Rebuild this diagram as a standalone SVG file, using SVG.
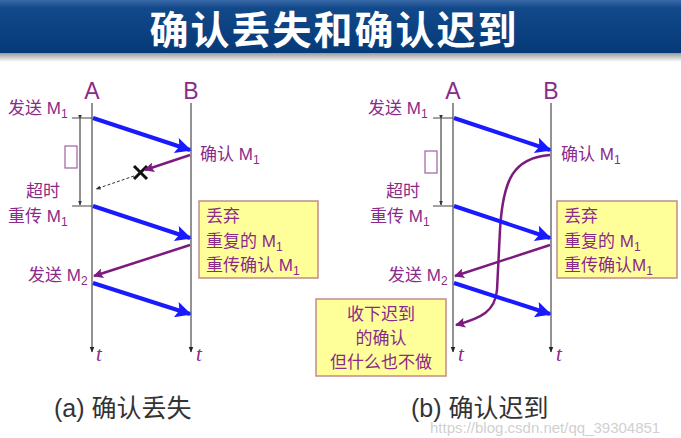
<svg xmlns="http://www.w3.org/2000/svg" width="681" height="438" viewBox="0 0 681 438">
<defs>
<linearGradient id="band" x1="0" y1="0" x2="0" y2="1">
<stop offset="0" stop-color="#3a6aa8"/>
<stop offset="0.15" stop-color="#12498a"/>
<stop offset="1" stop-color="#053a78"/>
</linearGradient>
<linearGradient id="shadow" x1="0" y1="0" x2="0" y2="1">
<stop offset="0" stop-color="#9a9a9a"/>
<stop offset="1" stop-color="#ffffff"/>
</linearGradient>
<marker id="blue" viewBox="0 0 10 10" refX="9" refY="5" markerWidth="5" markerHeight="4" orient="auto" markerUnits="strokeWidth">
<path d="M0,0 L10,5 L0,10 L2,5 z" fill="#1a1aff"/>
</marker>
<marker id="purp" viewBox="0 0 10 10" refX="9" refY="5" markerWidth="5" markerHeight="4" orient="auto" markerUnits="strokeWidth">
<path d="M0,0 L10,5 L0,10 L2,5 z" fill="#7d1a7d"/>
</marker>
<marker id="blk" viewBox="0 0 10 10" refX="9" refY="5" markerWidth="6" markerHeight="6" orient="auto" markerUnits="userSpaceOnUse">
<path d="M0,1 L10,5 L0,9 z" fill="#222"/>
</marker>
<marker id="blk2" viewBox="0 0 10 10" refX="9" refY="5" markerWidth="5" markerHeight="5" orient="auto" markerUnits="userSpaceOnUse">
<path d="M0,1 L10,5 L0,9 z" fill="#333"/>
</marker>
</defs>
<style>
.t{font-family:"Liberation Sans","Noto Sans CJK SC",sans-serif;fill:#8b2a8b;font-size:17px}
.h{font-family:"Liberation Sans",sans-serif;fill:#8b2a8b;font-size:23px}
.ti{font-family:"Liberation Serif",serif;font-style:italic;fill:#8b2a8b;font-size:21px}
.cap{font-family:"Liberation Sans","Noto Sans CJK SC",sans-serif;fill:#333;font-size:25px}
.life{stroke:#6e6e6e;stroke-width:1.5;fill:none}
.bl{stroke:#1a1aff;stroke-width:4;fill:none;marker-end:url(#blue)}
.pl{stroke:#7d1a7d;stroke-width:2.5;fill:none;marker-end:url(#purp)}
.tick{stroke:#444;stroke-width:1}
.tm{stroke:#222;stroke-width:1;marker-start:url(#blk2);marker-end:url(#blk2)}
.box{fill:#ffff99;stroke:#c48a8a;stroke-width:1.5}
.tbox{fill:none;stroke:#a060a0;stroke-width:1.2}
</style>
<rect width="681" height="438" fill="#ffffff"/>
<g id="title">
<rect x="0" y="0" width="681" height="53" fill="url(#band)"/>
<rect x="0" y="53" width="681" height="9" fill="url(#shadow)"/>
<text x="334" y="44" text-anchor="middle" font-family="'Noto Sans CJK SC',sans-serif" font-weight="bold" font-size="39" fill="#ffffff" letter-spacing="2">确认丢失和确认迟到</text>
</g>
<g id="panel-a">
<g id="a-A"><text class="h" x="92" y="99" text-anchor="middle">A</text><line class="life" x1="92" y1="103" x2="92" y2="352" marker-end="url(#blk)"/><text class="ti" x="96" y="361">t</text></g>
<g id="a-B"><text class="h" x="191" y="99" text-anchor="middle">B</text><line class="life" x1="191" y1="103" x2="191" y2="352" marker-end="url(#blk)"/><text class="ti" x="196" y="361">t</text></g>
<g id="a-labels">
<text class="t" x="8" y="114">发送 M<tspan font-size="12" dy="4">1</tspan></text>
<text class="t" x="26" y="197">超时</text>
<text class="t" x="8" y="222">重传 M<tspan font-size="12" dy="4">1</tspan></text>
<text class="t" x="28" y="281">发送 M<tspan font-size="12" dy="4">2</tspan></text>
<text class="t" x="200" y="160">确认 M<tspan font-size="12" dy="4">1</tspan></text>
</g>
<g id="a-timer">
<line class="tick" x1="72" y1="118" x2="92" y2="118"/>
<line class="tick" x1="72" y1="206" x2="92" y2="206"/>
<line class="tm" x1="80" y1="119" x2="80" y2="205"/>
<rect class="tbox" x="65" y="146" width="12" height="22" fill="#fff"/>
</g>
<g id="a-box">
<rect class="box" x="199" y="201" width="119" height="77"/>
<text class="t" x="206" y="222">丢弃</text>
<text class="t" x="206" y="247">重复的 M<tspan font-size="12" dy="4">1</tspan></text>
<text class="t" x="206" y="271">重传确认 M<tspan font-size="12" dy="4">1</tspan></text>
</g>
<g id="a-lost">
<path d="M134,166 L147,179 M147,166 L134,179" stroke="#111" stroke-width="3" fill="none"/>
</g>
</g>
<g id="panel-b">
<g id="b-A"><text class="h" x="453" y="99" text-anchor="middle">A</text><line class="life" x1="453" y1="103" x2="453" y2="352" marker-end="url(#blk)"/><text class="ti" x="458" y="361">t</text></g>
<g id="b-B"><text class="h" x="551" y="99" text-anchor="middle">B</text><line class="life" x1="551" y1="103" x2="551" y2="352" marker-end="url(#blk)"/><text class="ti" x="556" y="361">t</text></g>
<g id="b-labels">
<text class="t" x="368" y="114">发送 M<tspan font-size="12" dy="4">1</tspan></text>
<text class="t" x="386" y="197">超时</text>
<text class="t" x="370" y="222">重传 M<tspan font-size="12" dy="4">1</tspan></text>
<text class="t" x="388" y="281">发送 M<tspan font-size="12" dy="4">2</tspan></text>
<text class="t" x="561" y="160">确认 M<tspan font-size="12" dy="4">1</tspan></text>
</g>
<g id="b-timer">
<line class="tick" x1="433" y1="118" x2="453" y2="118"/>
<line class="tick" x1="433" y1="206" x2="453" y2="206"/>
<line class="tm" x1="441" y1="119" x2="441" y2="205"/>
<rect class="tbox" x="425" y="151" width="12" height="22" fill="#fff"/>
</g>
<g id="b-box1">
<rect class="box" x="557" y="201" width="120" height="77"/>
<text class="t" x="564" y="222">丢弃</text>
<text class="t" x="564" y="247">重复的 M<tspan font-size="12" dy="4">1</tspan></text>
<text class="t" x="564" y="271">重传确认M<tspan font-size="12" dy="4">1</tspan></text>
</g>
<g id="b-box2">
<rect class="box" x="316" y="299" width="130" height="77"/>
<text class="t" x="381" y="320" text-anchor="middle">收下迟到</text>
<text class="t" x="381" y="344" text-anchor="middle">的确认</text>
<text class="t" x="381" y="368" text-anchor="middle">但什么也不做</text>
</g>
</g>
<g id="connectors">
<line class="bl" x1="93" y1="118" x2="190" y2="150"/>
<line class="pl" x1="190" y1="155" x2="145" y2="170"/>
<line x1="134" y1="176" x2="96" y2="189" stroke="#333" stroke-width="1" stroke-dasharray="3,2" marker-end="url(#blk2)"/>
<line class="bl" x1="93" y1="206" x2="190" y2="238"/>
<line class="pl" x1="190" y1="245" x2="94" y2="276"/>
<line class="bl" x1="93" y1="283" x2="190" y2="314"/>
<line class="bl" x1="454" y1="118" x2="550" y2="150"/>
<path class="pl" d="M550,155 C514,158 503,178 500,230 L497,290 C495,311 482,318 456,325"/>
<line class="bl" x1="454" y1="206" x2="550" y2="238"/>
<line class="pl" x1="550" y1="245" x2="455" y2="276"/>
<line class="bl" x1="454" y1="283" x2="550" y2="314"/>
</g>
<g id="captions">
<text class="cap" x="54" y="417">(a) 确认丢失</text>
<text class="cap" x="411" y="417">(b) 确认迟到</text>
<text x="430" y="433" font-family="'Liberation Sans',sans-serif" font-size="15" fill="#d0d0d0">https://blog.csdn.net/qq_39304851</text>
</g>
</svg>
